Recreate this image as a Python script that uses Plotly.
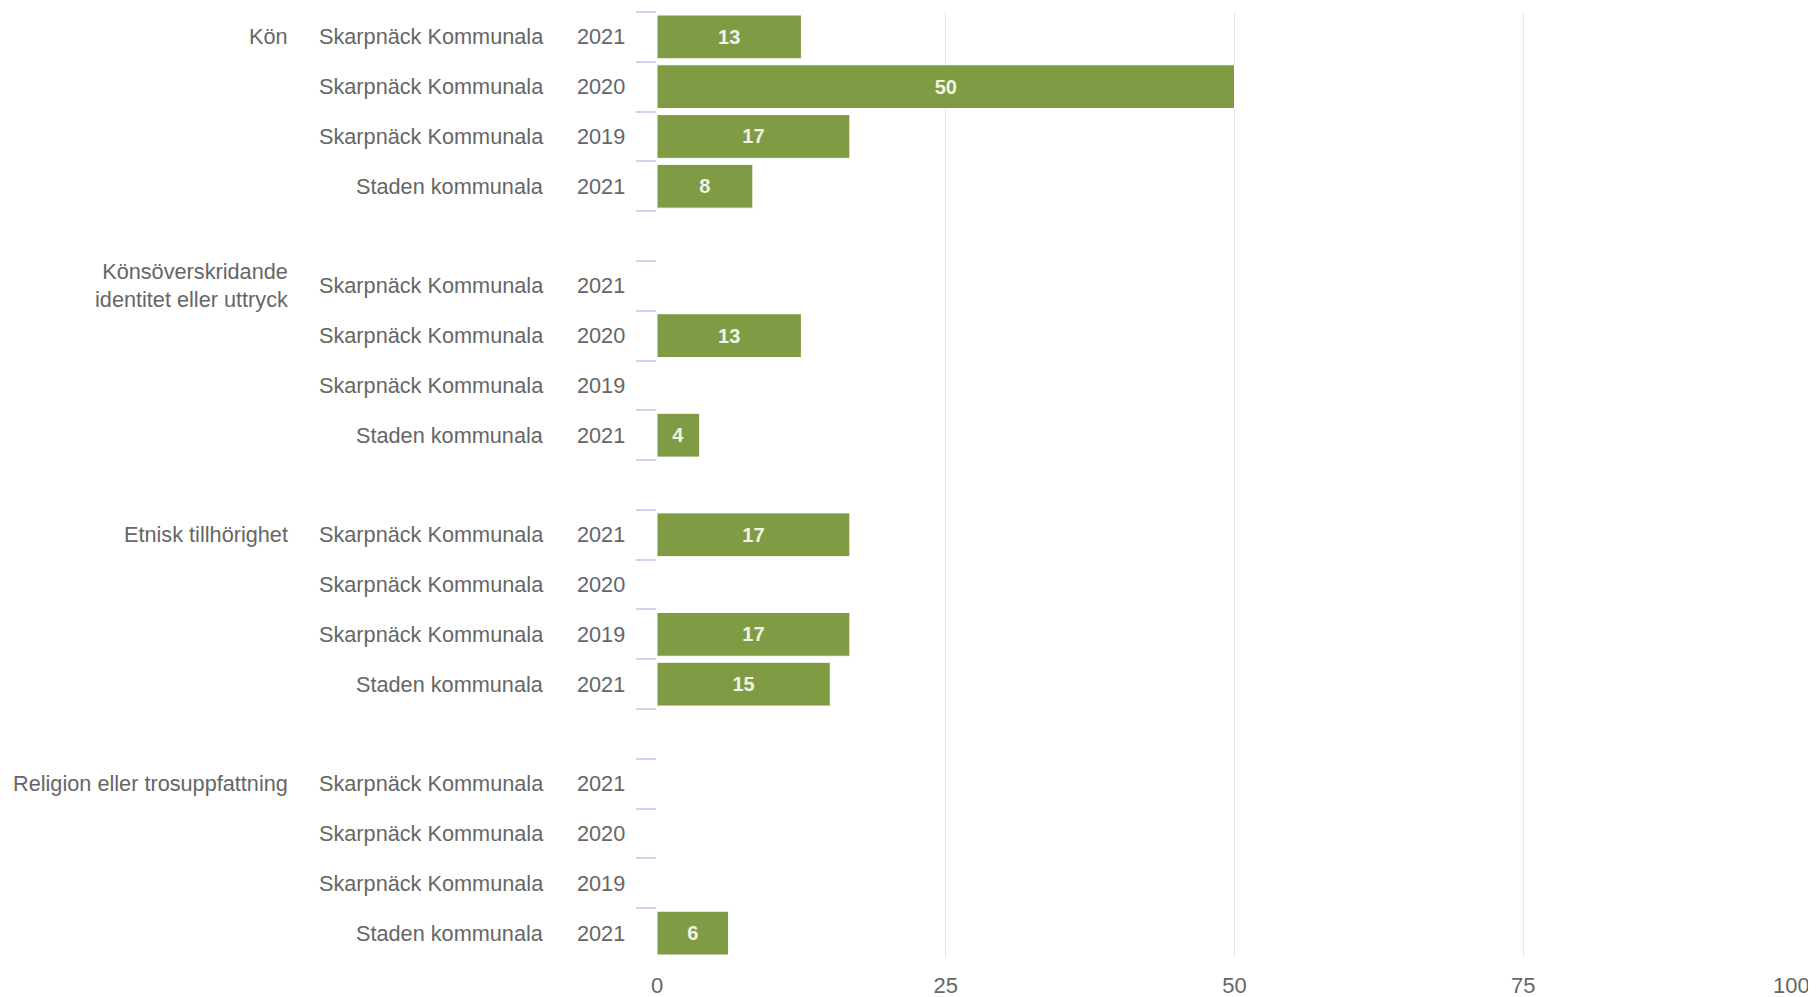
import plotly.graph_objects as go

# Data (percent)
GROUPS = [
    "Kön",
    "Könsöverskridande<br>identitet eller uttryck",
    "Etnisk tillhörighet",
    "Religion eller trosuppfattning",
]
UNITS = ["Skarpnäck Kommunala", "Skarpnäck Kommunala", "Skarpnäck Kommunala", "Staden kommunala"]
YEARS = ["2021", "2020", "2019", "2021"]

KON = [12.5, 50.0, 16.7, 8.3]
KONSOVERSKRIDANDE = [None, 12.5, None, 3.7]
ETNISK = [16.7, None, 16.7, 15.0]
RELIGION = [None, None, None, 6.2]
GROUP_VALUES = [KON, KONSOVERSKRIDANDE, ETNISK, RELIGION]

X_TICKS = [0, 25, 50, 75, 100]
X_MAX = 100

BAR_COLOR = "#7f9c45"
LABEL_COLOR = "#666666"
TICK_COLOR = "#ccd6eb"
GRID_COLOR = "#e6e6e6"
FONT = "Liberation Sans, Arial, Helvetica, sans-serif"

# build rows: 4 per group, an empty spacer row between groups
rows = []
values = []
annotations = []
for g, (group, vals) in enumerate(zip(GROUPS, GROUP_VALUES)):
    for i, (unit, year, val) in enumerate(zip(UNITS, YEARS, vals)):
        key = f"{g}-{i}"
        rows.append(key)
        values.append(val)
        annotations.append(dict(x=0, y=key, text=unit, xshift=-111))
        annotations.append(dict(x=0, y=key, text=year, xshift=-30))
        if i == 0:
            annotations.append(dict(x=0, y=key, text=group, xshift=-367))
    if g < len(GROUPS) - 1:
        rows.append(f"gap-{g}")
        values.append(None)

fig = go.Figure(
    go.Bar(
        x=values,
        y=rows,
        orientation="h",
        marker=dict(color=BAR_COLOR, line=dict(color="#ffffff", width=1)),
        texttemplate="%{x:.0f}",
        textposition="inside",
        insidetextanchor="middle",
        textangle=0,
        textfont=dict(family=FONT, size=20, color="#f3f3e4", weight="bold"),
        hoverinfo="skip",
    )
)

for ann in annotations:
    ann.update(
        xref="paper",
        yref="y",
        xanchor="right",
        yanchor="middle",
        align="right",
        showarrow=False,
        font=dict(family=FONT, size=21.7, color=LABEL_COLOR),
    )

# last tick label is pulled inside the edge (right-aligned to its gridline)
annotations.append(
    dict(
        x=X_MAX,
        xref="x",
        y=0,
        yref="paper",
        text=str(X_MAX),
        xanchor="right",
        yanchor="middle",
        yshift=-27,
        showarrow=False,
        font=dict(family=FONT, size=22, color=LABEL_COLOR),
    )
)
fig.update_layout(annotations=annotations)

# page body adds an 8px margin, so the figure is sized to the remaining window
fig.update_layout(
    width=1808,
    height=989,
    paper_bgcolor="#ffffff",
    plot_bgcolor="#ffffff",
    margin=dict(l=649, r=4, t=4, b=39),
    bargap=0.12,
    showlegend=False,
    font=dict(family=FONT, color=LABEL_COLOR),
)
fig.update_xaxes(
    range=[0, X_MAX],
    tickvals=X_TICKS,
    ticktext=[str(t) for t in X_TICKS[:-1]] + [""],
    showgrid=True,
    gridcolor=GRID_COLOR,
    gridwidth=1,
    zeroline=False,
    showline=False,
    ticks="",
    tickfont=dict(family=FONT, size=22, color=LABEL_COLOR),
    ticklabelstandoff=12,
    automargin=False,
    fixedrange=True,
)
fig.update_yaxes(
    type="category",
    categoryorder="array",
    categoryarray=rows,
    autorange="reversed",
    showticklabels=False,
    showgrid=False,
    zeroline=False,
    showline=False,
    ticks="outside",
    tickson="boundaries",
    ticklen=20,
    tickcolor=TICK_COLOR,
    tickwidth=2,
    automargin=False,
    fixedrange=True,
)

fig.write_html("out.html")
